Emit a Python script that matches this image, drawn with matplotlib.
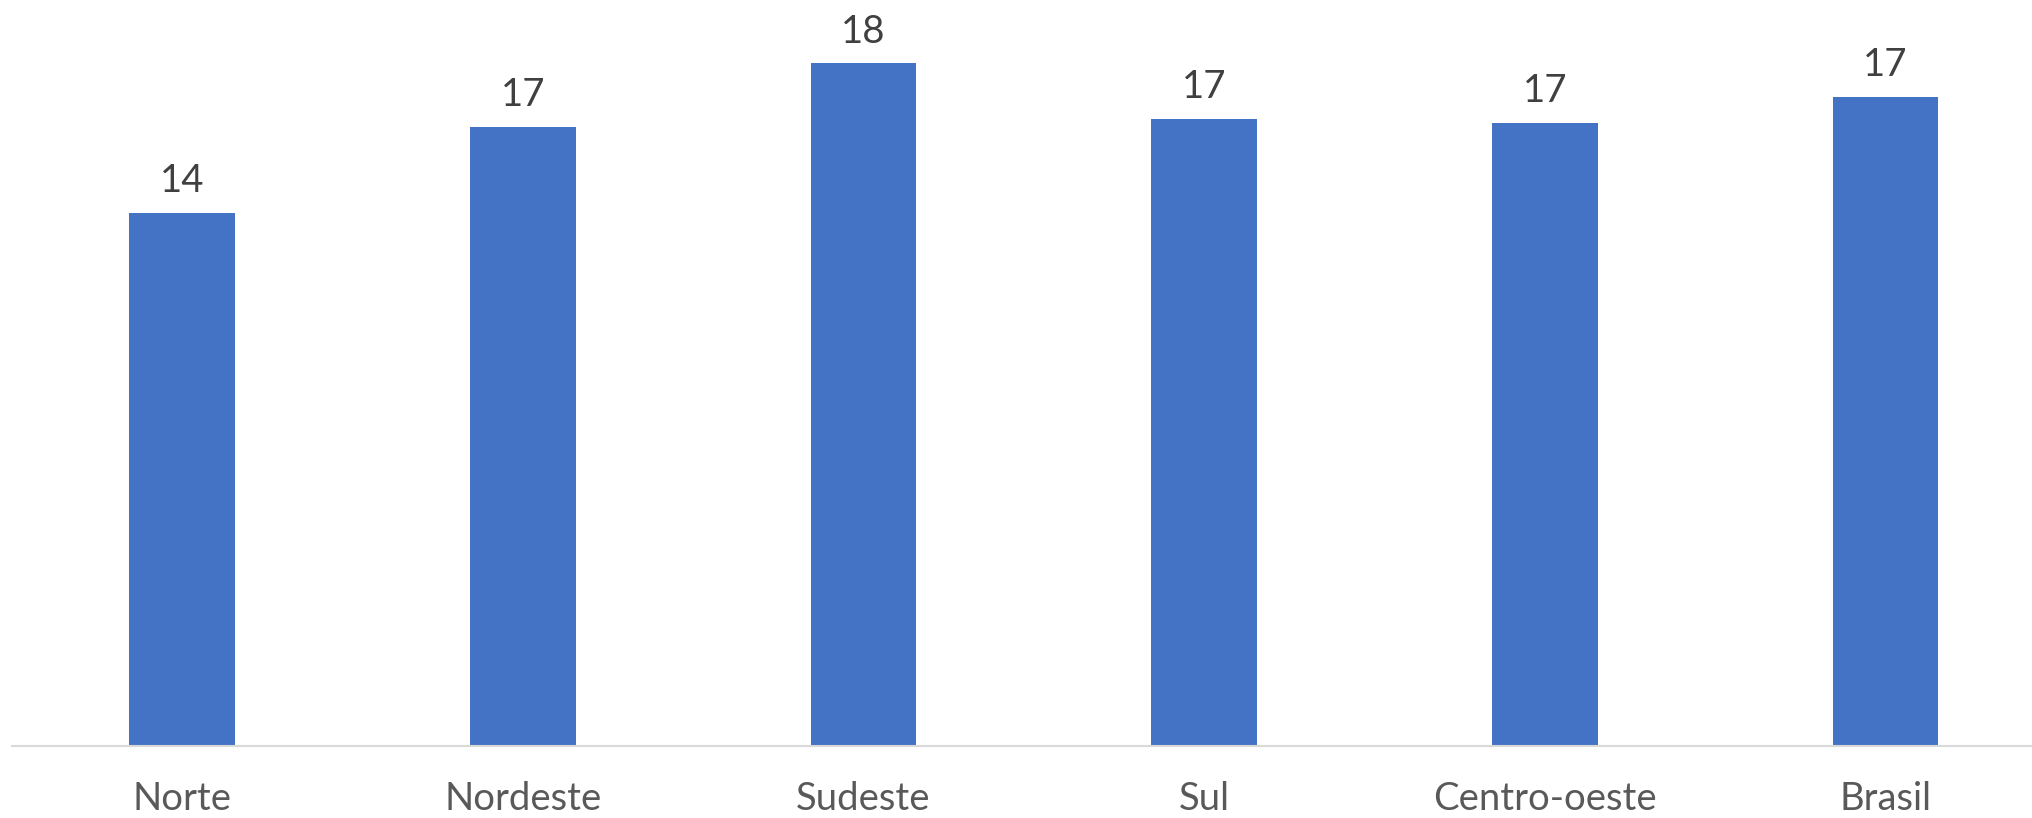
import matplotlib
matplotlib.use("Agg")
import matplotlib.pyplot as plt

categories = ["Norte", "Nordeste", "Sudeste", "Sul", "Centro-oeste", "Brasil"]
values = [14.3, 16.6, 18.3, 16.8, 16.7, 17.4]

plt.rcParams['font.family'] = ['Lato', 'DejaVu Sans']

fig = plt.figure(figsize=(20.33, 8.18), dpi=100)
W, H = 2033, 818
left_px = 11.7
cat_px = 340.7
ax = fig.add_axes([left_px / W, (H - 746) / H, 6 * cat_px / W, 746 / H])

x = list(range(len(categories)))
bars = ax.bar(x, values, width=0.31, color="#4472C4", zorder=2)
ax.bar_label(bars, fmt="%.0f", padding=10, fontsize=27.5, color="#404040")

ax.set_xlim(-0.5, 5.5)
ax.set_ylim(0, 20)
ax.set_xticks(x)
ax.set_xticklabels(categories, fontsize=27.5, color="#595959")
ax.tick_params(axis='x', length=0, pad=25)
ax.set_yticks([])
for s in ["top", "right", "left"]:
    ax.spines[s].set_visible(False)
ax.spines["bottom"].set_color("#D9D9D9")
ax.spines["bottom"].set_linewidth(1.5)

fig.savefig("out.png", dpi=100)
